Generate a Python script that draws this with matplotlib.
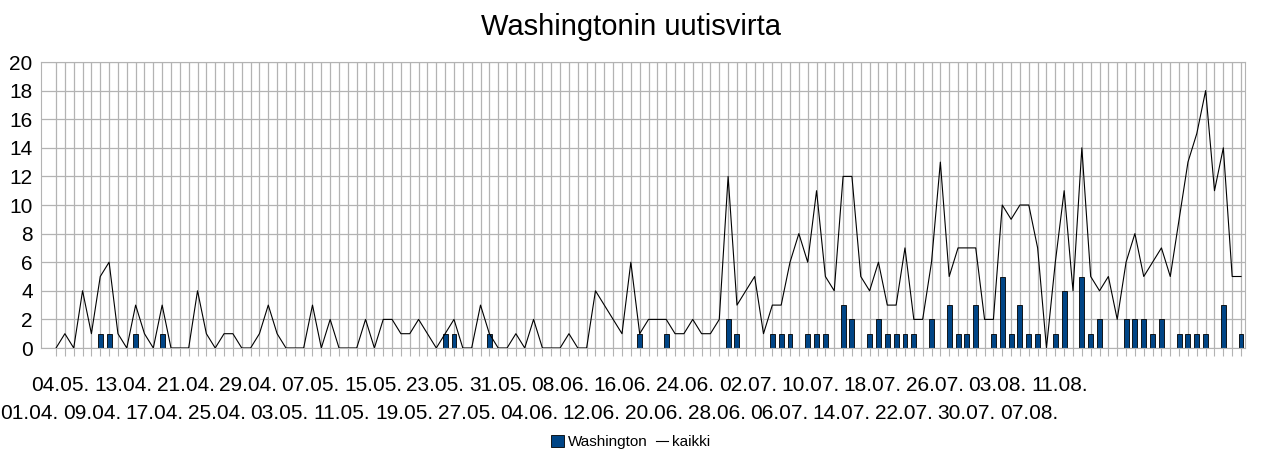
import matplotlib
matplotlib.use("Agg")
import matplotlib.pyplot as plt
from matplotlib.patches import Patch
from matplotlib.lines import Line2D

plt.rcParams["font.family"] = ["Liberation Sans", "DejaVu Sans"]

# uutisia per paiva, 01.04. - 13.08.
KAIKKI = [0, 1, 0, 4, 1, 5, 6, 1, 0, 3, 1, 0, 3, 0, 0, 0, 4, 1, 0, 1,
          1, 0, 0, 1, 3, 1, 0, 0, 0, 3, 0, 2, 0, 0, 0, 2, 0, 2, 2, 1,
          1, 2, 1, 0, 1, 2, 0, 0, 3, 1, 0, 0, 1, 0, 2, 0, 0, 0, 1, 0,
          0, 4, 3, 2, 1, 6, 1, 2, 2, 2, 1, 1, 2, 1, 1, 2, 12, 3, 4, 5,
          1, 3, 3, 6, 8, 6, 11, 5, 4, 12, 12, 5, 4, 6, 3, 3, 7, 2, 2, 6,
          13, 5, 7, 7, 7, 2, 2, 10, 9, 10, 10, 7, 0, 6, 11, 4, 14, 5, 4, 5,
          2, 6, 8, 5, 6, 7, 5, 9, 13, 15, 18, 11, 14, 5, 5]

WASHINGTON = [0, 0, 0, 0, 0, 1, 1, 0, 0, 1, 0, 0, 1, 0, 0, 0, 0, 0, 0, 0,
              0, 0, 0, 0, 0, 0, 0, 0, 0, 0, 0, 0, 0, 0, 0, 0, 0, 0, 0, 0,
              0, 0, 0, 0, 1, 1, 0, 0, 0, 1, 0, 0, 0, 0, 0, 0, 0, 0, 0, 0,
              0, 0, 0, 0, 0, 0, 1, 0, 0, 1, 0, 0, 0, 0, 0, 0, 2, 1, 0, 0,
              0, 1, 1, 1, 0, 1, 1, 1, 0, 3, 2, 0, 1, 2, 1, 1, 1, 1, 0, 2,
              0, 3, 1, 1, 3, 0, 1, 5, 1, 3, 1, 1, 0, 1, 4, 0, 5, 1, 2, 0,
              0, 2, 2, 2, 1, 2, 0, 1, 1, 1, 1, 0, 3, 0, 1]

# akselin nimiot (alkuperaisen kaavion kirjoitusasu)
TICK_LABELS = ["01.04.", "04.05.", "09.04.", "13.04.", "17.04.", "21.04.",
               "25.04.", "29.04.", "03.05.", "07.05.", "11.05.", "15.05.",
               "19.05.", "23.05.", "27.05.", "31.05.", "04.06.", "08.06.",
               "12.06.", "16.06.", "20.06.", "24.06.", "28.06.", "02.07.",
               "06.07.", "10.07.", "14.07.", "18.07.", "22.07.", "26.07.",
               "30.07.", "03.08.", "07.08.", "11.08."]

W, H = 1262, 457
GRID = "#b3b3b3"
FS = 15

n = len(KAIKKI)
x = list(range(n))

fig = plt.figure(figsize=(W / 100, H / 100), dpi=100)
ax = fig.add_axes([41 / W, 1 - 348 / H, 1204 / W, 286 / H])

ax.bar(x, WASHINGTON, width=0.56, color="#004586", edgecolor="black",
       linewidth=0.6, zorder=2)
ax.plot(x, KAIKKI, color="black", linewidth=0.8, zorder=3)

ax.set_xlim(-1.7, n - 1 + 0.45)
ax.set_ylim(0, 20)
ax.set_yticks(range(0, 21, 2))
ax.tick_params(axis="y", length=0, pad=6, labelsize=FS)
ax.set_xticks(x)
ax.set_xticklabels([])
ax.tick_params(axis="x", length=6, color=GRID)

ax.set_axisbelow(True)
ax.grid(True, color=GRID, linewidth=0.9)
for s in ax.spines.values():
    s.set_color(GRID)

# nimiot omalla akselillaan, kahdessa rivissa kuten LibreOfficessa
m = len(TICK_LABELS)
lab = fig.add_axes([13.9 / W, 1 - 348 / H, 1061.8 / W, 0.001])
lab.set_xlim(-0.5, m - 0.5)
lab.patch.set_visible(False)
lab.yaxis.set_visible(False)
for s in lab.spines.values():
    s.set_visible(False)
lab.set_xticks(range(1, m, 2), labels=TICK_LABELS[1::2])
lab.tick_params(axis="x", length=0, pad=20.5, labelsize=FS)

sec = lab.secondary_xaxis("bottom")
sec.set_xticks(range(0, m, 2), labels=TICK_LABELS[0::2])
sec.tick_params(length=0, pad=40, labelsize=FS)
sec.spines["bottom"].set_visible(False)

fig.text(0.5, 1 - 27 / H, "Washingtonin uutisvirta", ha="center",
         va="center", fontsize=21)

handles = [Patch(facecolor="#004586", edgecolor="black", linewidth=0.6),
           Line2D([], [], color="black", linewidth=0.8)]
fig.legend(handles, ["Washington", "kaikki"], loc="center",
           bbox_to_anchor=(0.5, 1 - 442 / H), ncol=2, frameon=False,
           fontsize=11, handlelength=0.8, handleheight=0.8,
           handletextpad=0.3, columnspacing=0.5)

fig.savefig("out.png", dpi=100)
